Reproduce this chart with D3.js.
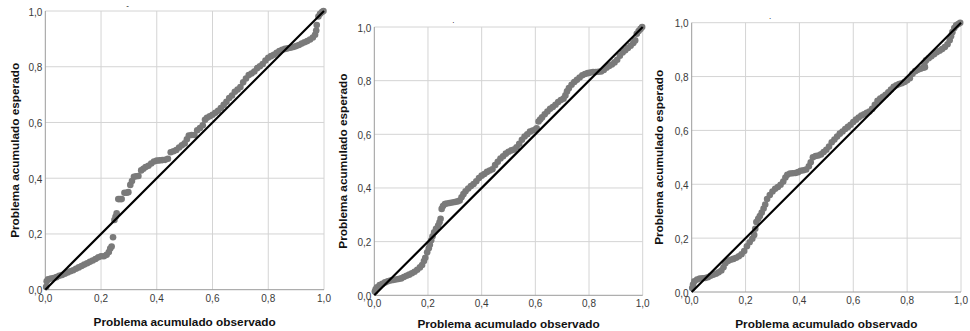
<!DOCTYPE html>
<html><head><meta charset="utf-8">
<script src="https://cdn.jsdelivr.net/npm/d3@7"></script>
<style>body{margin:0;background:#fff}svg{display:block}text{font-family:"Liberation Sans",Arial,sans-serif}</style>
</head><body><svg id="c" width="970" height="331"></svg>
<script>
const tickValues = [0, 0.2, 0.4, 0.6, 0.8, 1.0];
const tickLabels = ["0,0", "0,2", "0,4", "0,6", "0,8", "1,0"];
const xTitle = "Problema acumulado observado";
const yTitle = "Problema acumulado esperado";
const panelTitles = ["-", ".", "."];

// [observado, esperado]
const panel1 = [
[0.003,0.01],[0.005,0.03],[0.01,0.037],[0.02,0.04],[0.03,0.042],[0.04,0.045],[0.05,0.05],[0.06,0.053],
[0.07,0.057],[0.08,0.062],[0.09,0.066],[0.10,0.07],[0.11,0.075],[0.12,0.08],[0.13,0.085],[0.14,0.09],
[0.15,0.095],[0.16,0.1],[0.17,0.105],[0.18,0.11],[0.19,0.116],[0.20,0.12],[0.21,0.12],[0.22,0.125],
[0.228,0.135],[0.233,0.148],[0.238,0.155],[0.243,0.188],[0.248,0.25],[0.252,0.262],[0.256,0.274],
[0.262,0.325],[0.268,0.325],[0.274,0.325],[0.284,0.348],[0.292,0.348],[0.298,0.35],[0.305,0.376],
[0.311,0.39],[0.318,0.405],[0.326,0.407],[0.334,0.408],[0.344,0.428],[0.352,0.434],[0.36,0.44],
[0.37,0.445],[0.38,0.453],[0.39,0.46],[0.40,0.463],[0.41,0.464],[0.42,0.465],[0.43,0.466],[0.44,0.47],
[0.45,0.493],[0.46,0.497],[0.47,0.501],[0.48,0.51],[0.49,0.518],[0.50,0.525],[0.508,0.54],[0.515,0.553],
[0.525,0.555],[0.535,0.555],[0.545,0.572],[0.555,0.58],[0.565,0.59],[0.573,0.61],[0.58,0.617],[0.59,0.622],
[0.60,0.628],[0.61,0.635],[0.62,0.642],[0.63,0.652],[0.64,0.663],[0.65,0.674],[0.66,0.688],[0.67,0.697],
[0.68,0.71],[0.69,0.718],[0.70,0.727],[0.71,0.744],[0.72,0.758],[0.73,0.77],[0.74,0.776],[0.75,0.783],
[0.76,0.795],[0.77,0.802],[0.78,0.81],[0.79,0.822],[0.80,0.832],[0.81,0.838],[0.82,0.843],[0.83,0.85],
[0.84,0.856],[0.85,0.861],[0.86,0.864],[0.87,0.866],[0.88,0.868],[0.89,0.871],[0.90,0.874],[0.91,0.878],
[0.92,0.883],[0.93,0.888],[0.94,0.892],[0.95,0.898],[0.96,0.905],[0.968,0.915],[0.972,0.93],[0.974,0.95],
[0.98,0.98],[0.986,0.99],[0.993,0.996],[0.998,1.0]
];

const panel2 = [
[0.002,0.014],[0.005,0.022],[0.01,0.03],[0.02,0.038],[0.03,0.043],[0.04,0.048],[0.05,0.052],[0.06,0.055],
[0.07,0.057],[0.08,0.059],[0.09,0.061],[0.10,0.063],[0.11,0.068],[0.12,0.073],[0.13,0.077],[0.14,0.082],
[0.15,0.088],[0.16,0.095],[0.17,0.104],[0.178,0.113],[0.185,0.128],[0.19,0.14],[0.197,0.16],[0.203,0.175],
[0.207,0.188],[0.212,0.205],[0.217,0.22],[0.223,0.235],[0.23,0.248],[0.238,0.26],[0.243,0.272],[0.247,0.285],
[0.251,0.322],[0.256,0.333],[0.263,0.34],[0.27,0.342],[0.28,0.344],[0.29,0.346],[0.30,0.348],[0.31,0.35],
[0.318,0.353],[0.325,0.365],[0.332,0.377],[0.34,0.388],[0.35,0.398],[0.36,0.407],[0.37,0.415],[0.38,0.425],
[0.39,0.437],[0.40,0.446],[0.41,0.452],[0.42,0.46],[0.43,0.465],[0.44,0.47],[0.45,0.485],[0.46,0.498],
[0.47,0.51],[0.48,0.518],[0.49,0.528],[0.50,0.535],[0.51,0.54],[0.52,0.543],[0.53,0.552],[0.54,0.565],
[0.55,0.58],[0.56,0.592],[0.57,0.6],[0.58,0.61],[0.59,0.614],[0.60,0.618],[0.605,0.622],[0.612,0.648],
[0.618,0.655],[0.625,0.663],[0.635,0.675],[0.645,0.685],[0.655,0.695],[0.665,0.702],[0.675,0.71],
[0.685,0.72],[0.695,0.728],[0.705,0.733],[0.712,0.745],[0.718,0.76],[0.725,0.772],[0.735,0.785],
[0.745,0.795],[0.755,0.803],[0.765,0.812],[0.775,0.82],[0.785,0.825],[0.795,0.828],[0.805,0.83],
[0.815,0.832],[0.825,0.832],[0.835,0.833],[0.845,0.834],[0.855,0.84],[0.865,0.848],[0.875,0.855],
[0.885,0.86],[0.895,0.868],[0.905,0.878],[0.915,0.893],[0.925,0.905],[0.935,0.913],[0.945,0.922],
[0.955,0.93],[0.965,0.94],[0.972,0.95],[0.978,0.975],[0.985,0.985],[0.992,0.993],[0.998,1.0]
];

const panel3 = [
[0.002,0.015],[0.005,0.028],[0.01,0.04],[0.02,0.046],[0.03,0.05],[0.04,0.051],[0.05,0.052],[0.06,0.055],
[0.07,0.06],[0.08,0.064],[0.09,0.068],[0.10,0.073],[0.11,0.08],[0.118,0.092],[0.125,0.107],[0.135,0.115],
[0.145,0.12],[0.155,0.123],[0.165,0.127],[0.175,0.133],[0.185,0.14],[0.195,0.152],[0.205,0.17],[0.215,0.185],
[0.225,0.198],[0.232,0.212],[0.236,0.235],[0.24,0.26],[0.247,0.272],[0.253,0.282],[0.26,0.295],[0.267,0.31],
[0.273,0.325],[0.28,0.345],[0.29,0.36],[0.30,0.373],[0.31,0.383],[0.32,0.39],[0.33,0.398],[0.34,0.41],
[0.348,0.425],[0.355,0.435],[0.365,0.44],[0.375,0.441],[0.385,0.442],[0.395,0.445],[0.405,0.45],
[0.415,0.452],[0.425,0.455],[0.435,0.467],[0.442,0.482],[0.45,0.5],[0.46,0.505],[0.47,0.507],[0.48,0.511],
[0.49,0.52],[0.50,0.528],[0.51,0.54],[0.52,0.556],[0.53,0.566],[0.54,0.577],[0.55,0.588],[0.56,0.596],
[0.57,0.605],[0.58,0.613],[0.59,0.621],[0.60,0.631],[0.61,0.64],[0.62,0.648],[0.63,0.655],[0.64,0.66],
[0.65,0.665],[0.66,0.67],[0.67,0.68],[0.68,0.695],[0.69,0.71],[0.70,0.718],[0.71,0.725],[0.72,0.732],
[0.73,0.742],[0.74,0.752],[0.75,0.762],[0.76,0.768],[0.77,0.772],[0.78,0.775],[0.79,0.78],[0.80,0.786],
[0.81,0.794],[0.82,0.81],[0.83,0.82],[0.84,0.825],[0.85,0.829],[0.86,0.833],[0.866,0.835],[0.864,0.85],
[0.87,0.86],[0.88,0.868],[0.89,0.875],[0.90,0.883],[0.91,0.89],[0.92,0.896],[0.93,0.902],[0.94,0.91],
[0.95,0.92],[0.958,0.935],[0.963,0.95],[0.968,0.965],[0.975,0.98],[0.982,0.99],[0.99,0.995],[0.997,1.0]
];

const panels = [
  {data: panel1, l: 45.3, r: 324, t: 11, b: 289.7, xTitleY: 326, yTitleX: 18.5, mark: [127.7, 8]},
  {data: panel2, l: 374.3, r: 642.7, t: 27, b: 295.3, xTitleY: 328.3, yTitleX: 346.5, mark: [453.3, 23]},
  {data: panel3, l: 691.7, r: 961, t: 22.7, b: 292, xTitleY: 327.5, yTitleX: 663, mark: [770, 19]}
];

const svg = d3.select("#c");

panels.forEach((p, i) => {
  const x = d3.scaleLinear().domain([0, 1]).range([p.l, p.r]);
  const y = d3.scaleLinear().domain([0, 1]).range([p.b, p.t]);
  const g = svg.append("g");

  // grid
  g.selectAll(".gx").data(tickValues.slice(1)).join("line")
    .attr("x1", d => x(d)).attr("x2", d => x(d)).attr("y1", p.t).attr("y2", p.b)
    .attr("stroke", "#d4d4d4").attr("stroke-width", 1);
  g.selectAll(".gy").data(tickValues.slice(1)).join("line")
    .attr("y1", d => y(d)).attr("y2", d => y(d)).attr("x1", p.l).attr("x2", p.r)
    .attr("stroke", "#d4d4d4").attr("stroke-width", 1);

  // axes lines
  g.append("line").attr("x1", p.l).attr("x2", p.l).attr("y1", p.t).attr("y2", p.b)
    .attr("stroke", "#9a9a9a").attr("stroke-width", 1);
  g.append("line").attr("x1", p.l).attr("x2", p.r).attr("y1", p.b).attr("y2", p.b)
    .attr("stroke", "#9a9a9a").attr("stroke-width", 1);

  // tick labels
  g.selectAll(".tx").data(tickValues).join("text")
    .attr("x", d => x(d)).attr("y", p.b + 12)
    .attr("text-anchor", "middle").attr("font-size", "10px").attr("fill", "#3a3a3a")
    .text((d, k) => tickLabels[k]);
  g.selectAll(".ty").data(tickValues).join("text")
    .attr("x", p.l - 3).attr("y", d => y(d) + 4.5)
    .attr("text-anchor", "end").attr("font-size", "10px").attr("fill", "#3a3a3a")
    .text((d, k) => tickLabels[k]);

  // points
  g.selectAll(".pt").data(p.data).join("circle")
    .attr("cx", d => x(d[0])).attr("cy", d => y(d[1])).attr("r", 3.3)
    .attr("fill", "#7a7a7a");

  // reference line
  g.append("line").attr("x1", x(0)).attr("y1", y(0)).attr("x2", x(1)).attr("y2", y(1))
    .attr("stroke", "#000").attr("stroke-width", 2.2);

  // titles
  g.append("text").attr("x", (p.l + p.r) / 2).attr("y", p.xTitleY)
    .attr("text-anchor", "middle").attr("font-size", "11.8px").attr("font-weight", "bold")
    .attr("fill", "#111").text(xTitle);
  g.append("text").attr("transform", `translate(${p.yTitleX},${(p.t + p.b) / 2}) rotate(-90)`)
    .attr("text-anchor", "middle").attr("font-size", "11.8px").attr("font-weight", "bold")
    .attr("fill", "#111").text(yTitle);
  g.append("text").attr("x", p.mark[0]).attr("y", p.mark[1])
    .attr("text-anchor", "middle").attr("font-size", "8px").attr("fill", "#000").text(panelTitles[i]);
});
</script></body></html>
